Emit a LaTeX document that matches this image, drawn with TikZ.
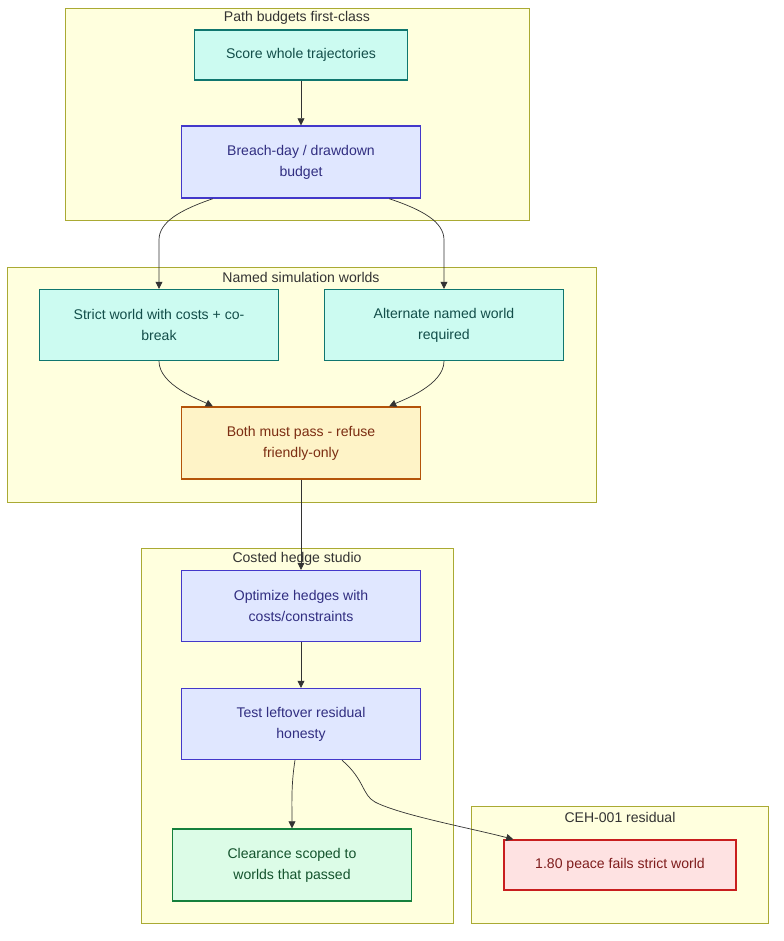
\documentclass[tikz,border=0pt]{standalone}
\usepackage{fontspec}
\setmainfont{Liberation Sans}
\usetikzlibrary{arrows.meta}
\definecolor{clfill}{HTML}{FFFFDE}
\definecolor{cldraw}{HTML}{AAAA33}
\definecolor{tealf}{HTML}{CCFBF1}\definecolor{teald}{HTML}{0F766E}\definecolor{tealt}{HTML}{134E4A}
\definecolor{lavf}{HTML}{E0E7FF}\definecolor{lavd}{HTML}{4338CA}\definecolor{lavt}{HTML}{312E81}
\definecolor{orf}{HTML}{FEF3C7}\definecolor{ord}{HTML}{B45309}\definecolor{ort}{HTML}{7C2D12}
\definecolor{grf}{HTML}{DCFCE7}\definecolor{grd}{HTML}{15803D}\definecolor{grt}{HTML}{14532D}
\definecolor{rdf}{HTML}{FEE2E2}\definecolor{rdd}{HTML}{C81E1E}\definecolor{rdt}{HTML}{7F1D1D}
\begin{document}
\begin{tikzpicture}[x=0.02cm,y=-0.02cm,
    cluster/.style={fill=clfill,draw=cldraw,line width=0.4pt},
    ctitle/.style={font=\fontsize{8}{10}\selectfont,text=black!80},
    box/.style={draw,line width=0.8pt,align=center,font=\fontsize{8}{12}\selectfont},
    teal/.style={box,fill=tealf,draw=teald,text=tealt},
    lav/.style={box,fill=lavf,draw=lavd,text=lavt},
    orng/.style={box,fill=orf,draw=ord,text=ort},
    grn/.style={box,fill=grf,draw=grd,text=grt},
    rd/.style={box,fill=rdf,draw=rdd,text=rdt},
    link/.style={draw=black!80,line width=0.4pt,-{Triangle[length=4pt,width=4pt]}}]
  \useasboundingbox (0,0) rectangle (784,941);

  % clusters
  \draw[cluster] (65,8) rectangle (529,220);
  \node[ctitle] at (297,18) {Path budgets first-class};
  \draw[cluster] (7,267) rectangle (596,502);
  \node[ctitle] at (301,277) {Named simulation worlds};
  \draw[cluster] (141,548) rectangle (453,923);
  \node[ctitle] at (297,559) {Costed hedge studio};
  \draw[cluster] (471,806) rectangle (768,923);
  \node[ctitle] at (620,817) {CEH-001 residual};

  % nodes
  \node[teal,minimum width=213*0.02cm,minimum height=50*0.02cm] (score) at (301,55) {Score whole trajectories};
  \node[lav,minimum width=239*0.02cm,minimum height=72*0.02cm] (breach) at (301,162) {Breach-day / drawdown\\budget};
  \node[teal,minimum width=239*0.02cm,minimum height=71*0.02cm] (strict) at (159,325) {Strict world with costs + co-\\break};
  \node[teal,minimum width=239*0.02cm,minimum height=71*0.02cm] (alt) at (444,325) {Alternate named world\\required};
  \node[orng,minimum width=239*0.02cm,minimum height=72*0.02cm] (both) at (301,443) {Both must pass - refuse\\friendly-only};
  \node[lav,minimum width=239*0.02cm,minimum height=71*0.02cm] (opt) at (301,606) {Optimize hedges with\\costs/constraints};
  \node[lav,minimum width=239*0.02cm,minimum height=71*0.02cm] (test) at (301,724) {Test leftover residual\\honesty};
  \node[grn,minimum width=239*0.02cm,minimum height=72*0.02cm] (clear) at (292,865) {Clearance scoped to\\worlds that passed};
  \node[rd,minimum width=232*0.02cm,minimum height=50*0.02cm] (peace) at (620,865) {1.80 peace fails strict world};

  % links
  \draw[link] (score) -- (breach);
  \draw[link] (breach.south west)++(32,0) .. controls (180,210) and (159,222) .. (159,240) -- (strict.north);
  \draw[link] (breach.south east)++(-32,0) .. controls (423,210) and (444,222) .. (444,240) -- (alt.north);
  \draw[link] (strict.south) .. controls (159,385) and (200,400) .. ([xshift=32*0.02cm]both.north west);
  \draw[link] (alt.south) .. controls (444,385) and (403,400) .. ([xshift=-32*0.02cm]both.north east);
  \draw[link] (both) -- (opt);
  \draw[link] (opt) -- (test);
  \draw[link] ([xshift=-6*0.02cm]test.south) .. controls (291,785) and (292,805) .. (clear.north);
  \draw[link] ([xshift=41*0.02cm]test.south) .. controls (365,780) and (362,795) .. (375,802) .. controls (400,815) and (470,828) .. ([xshift=10*0.02cm]peace.north west);
\end{tikzpicture}
\end{document}
